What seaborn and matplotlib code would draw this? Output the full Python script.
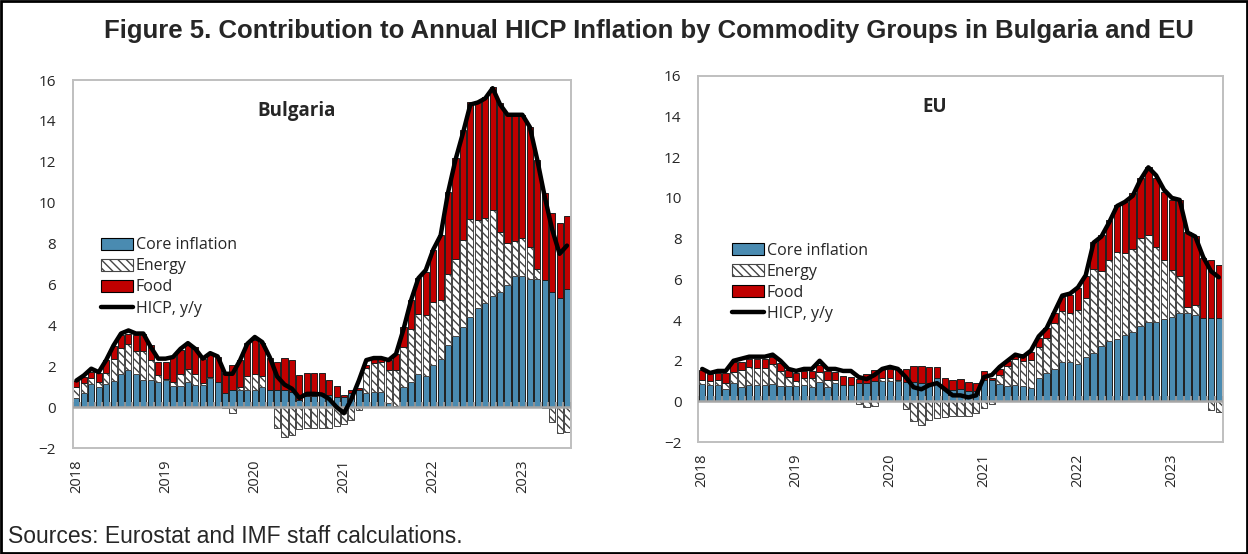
import numpy as np
import matplotlib
matplotlib.use("Agg")
import matplotlib.pyplot as plt
import seaborn as sns
from matplotlib.patches import Patch, Rectangle
from matplotlib.lines import Line2D

# ---------------- data (monthly, Jan 2018 - Jul 2023) ----------------
years = ["2018", "2019", "2020", "2021", "2022", "2023"]

bg_core = [0.47, 0.67, 1.11, 0.96, 1.11, 1.29, 1.60, 1.81, 1.60, 1.35, 1.35, 1.24,
           1.35, 1.03, 1.03, 1.24, 1.08, 1.08, 1.40, 1.21, 0.67, 0.86, 0.86, 0.86,
           0.86, 1.00, 0.86, 0.83, 0.86, 0.75, 0.34, 0.55, 0.55, 0.67, 0.59, 0.50,
           0.50, 0.67, 0.83, 0.70, 0.75, 0.72, 0.20, 0.05, 1.00, 1.24, 1.60, 1.52,
           2.06, 2.33, 3.03, 3.47, 3.90, 4.42, 4.83, 5.07, 5.43, 5.64, 5.97, 6.43,
           6.43, 6.26, 6.25, 6.20, 5.61, 5.32, 5.76]
bg_energy = [0.53, 0.49, 0.33, 0.28, 0.57, 1.04, 1.27, 1.26, 1.16, 1.41, 0.95, 0.33,
             0.02, 0.21, 0.57, 0.60, 0.54, 0.11, 0.08, 0.00, -0.05, -0.30, 0.10, 0.67,
             0.75, 0.53, 0.00, -1.04, -1.45, -1.35, -1.05, -1.00, -1.00, -1.00, -1.00, -0.90,
             -0.82, -0.64, -0.12, 1.19, 1.39, 1.50, 1.60, 1.75, 1.95, 2.56, 2.95, 2.98,
             3.06, 2.91, 3.48, 3.76, 4.27, 4.78, 4.32, 4.16, 4.21, 2.91, 2.04, 1.71,
             1.82, 1.59, 0.50, -0.05, -0.72, -1.26, -1.21]
bg_food = [0.29, 0.32, 0.29, 0.44, 0.62, 0.66, 0.65, 0.53, 0.76, 0.84, 0.73, 0.65,
           0.85, 1.26, 1.19, 1.19, 1.33, 1.14, 1.18, 1.25, 0.98, 1.19, 1.34, 1.59,
           1.67, 1.59, 1.52, 1.40, 1.52, 1.55, 1.23, 1.13, 1.10, 0.98, 0.76, 0.54,
           0.07, 0.19, 0.10, 0.17, 0.24, 0.16, 0.50, 0.80, 0.98, 1.44, 1.75, 2.12,
           2.56, 3.18, 4.03, 4.94, 5.39, 5.71, 5.84, 5.93, 6.04, 6.31, 6.36, 6.20,
           6.04, 5.87, 5.35, 4.29, 3.90, 3.67, 3.59]
bg_hicp = [1.30, 1.55, 1.88, 1.71, 2.30, 3.02, 3.60, 3.75, 3.60, 3.60, 2.94, 2.37,
           2.37, 2.45, 2.85, 3.13, 2.85, 2.37, 2.64, 2.48, 1.63, 1.63, 2.28, 3.10,
           3.43, 3.18, 2.45, 1.50, 1.10, 0.90, 0.45, 0.65, 0.65, 0.62, 0.40, 0.00,
           -0.30, 0.40, 1.30, 2.30, 2.40, 2.40, 2.30, 2.60, 3.80, 5.20, 6.30, 6.70,
           7.70, 8.40, 10.50, 12.10, 13.40, 14.80, 14.90, 15.10, 15.60, 14.80, 14.30, 14.30,
           14.30, 13.70, 12.10, 10.30, 8.70, 7.50, 7.90]

eu_core = [0.84, 0.81, 0.81, 0.61, 0.89, 0.73, 0.81, 0.81, 0.81, 0.86, 0.76, 0.76,
           0.76, 0.79, 0.73, 0.97, 0.73, 0.92, 0.79, 0.81, 0.89, 0.92, 1.02, 1.02,
           1.02, 1.02, 0.97, 0.97, 0.92, 0.89, 1.17, 0.60, 0.56, 0.60, 0.53, 0.52,
           1.06, 1.06, 0.86, 0.76, 0.81, 0.76, 0.65, 1.14, 1.42, 1.58, 1.96, 1.96,
           1.84, 2.17, 2.40, 2.73, 2.99, 3.05, 3.27, 3.43, 3.71, 3.92, 3.92, 4.03,
           4.13, 4.33, 4.33, 4.25, 4.08, 4.12, 4.12]
eu_energy = [0.22, 0.21, 0.25, 0.31, 0.58, 0.82, 0.90, 0.82, 0.82, 0.96, 0.75, 0.46,
             0.26, 0.35, 0.44, 0.50, 0.33, 0.14, 0.03, 0.00, -0.10, -0.25, -0.22, 0.15,
             0.12, 0.02, -0.37, -0.94, -1.15, -0.91, -0.83, -0.78, -0.71, -0.71, -0.71, -0.58,
             -0.34, -0.12, 0.44, 0.98, 1.26, 1.24, 1.39, 1.55, 1.68, 2.26, 2.50, 2.40,
             2.65, 2.90, 4.09, 3.69, 3.96, 4.31, 4.04, 4.04, 4.30, 4.26, 3.68, 2.92,
             2.33, 1.83, 0.33, 0.49, 0.00, -0.42, -0.50]
eu_food = [0.49, 0.31, 0.36, 0.50, 0.45, 0.41, 0.36, 0.44, 0.44, 0.35, 0.36, 0.33,
           0.40, 0.37, 0.34, 0.32, 0.44, 0.37, 0.43, 0.41, 0.20, 0.41, 0.53, 0.43,
           0.44, 0.56, 0.61, 0.77, 0.82, 0.82, 0.51, 0.54, 0.50, 0.49, 0.44, 0.37,
           0.45, 0.08, 0.28, 0.26, 0.21, 0.33, 0.41, 0.41, 0.49, 0.49, 0.69, 0.87,
           1.07, 1.09, 1.36, 1.76, 1.96, 2.29, 2.50, 2.75, 2.95, 3.32, 3.40, 3.35,
           3.43, 3.73, 3.68, 3.39, 2.95, 2.83, 2.58]
eu_hicp = [1.6, 1.4, 1.5, 1.5, 2.0, 2.1, 2.2, 2.2, 2.2, 2.3, 2.0, 1.6,
           1.5, 1.6, 1.6, 2.0, 1.6, 1.6, 1.5, 1.5, 1.2, 1.1, 1.3, 1.6,
           1.7, 1.6, 1.2, 0.7, 0.6, 0.8, 0.9, 0.6, 0.3, 0.3, 0.2, 0.3,
           1.2, 1.3, 1.7, 2.0, 2.3, 2.2, 2.5, 3.2, 3.6, 4.4, 5.2, 5.3,
           5.6, 6.2, 7.8, 8.1, 8.8, 9.6, 9.8, 10.1, 10.9, 11.5, 11.1, 10.4,
           10.0, 9.9, 8.3, 8.1, 7.1, 6.4, 6.1]

# ---------------- style ----------------
CORE = "#4a8bb1"
FOOD = "#c00000"
EDGE = "#1e1e1e"
HATCH_EDGE = "#454545"
GRID = "#bfbfbf"
HATCH = "\\\\\\\\"

sns.set_style("white")
plt.rcParams["font.family"] = ["Open Sans", "DejaVu Sans"]
plt.rcParams["hatch.linewidth"] = 1.0


def draw_panel(ax, core, energy, food, hicp, name, leg_anchor):
    core = np.array(core)
    energy = np.array(energy)
    food = np.array(food)
    x = np.arange(len(core))
    e_bottom = np.where(energy >= 0, core, 0)
    f_bottom = core + np.clip(energy, 0, None)

    common = dict(ax=ax, width=0.82, saturation=1, errorbar=None, linewidth=0.7)
    sns.barplot(x=x, y=core, color=CORE, edgecolor=EDGE, **common)
    sns.barplot(x=x, y=energy, bottom=e_bottom, color="white",
                edgecolor=HATCH_EDGE, hatch=HATCH, **common)
    sns.barplot(x=x, y=food, bottom=f_bottom, color=FOOD, edgecolor=EDGE, **common)

    # category axis crossing at zero, with small tick marks
    ax.axhline(0, color="#a6a6a6", lw=1.8, zorder=3)
    ax.vlines(np.arange(len(core) + 1) - 0.5, 0, 0.25, colors="#a6a6a6", lw=1.2, zorder=3)

    sns.lineplot(x=x, y=hicp, color="black", linewidth=3.2, ax=ax, legend=False, zorder=5)

    ax.set_xlim(-0.5, len(core) - 0.5)
    ax.set_ylim(-2, 16)
    ax.set_yticks(range(-2, 17, 2))
    ax.set_xticks(np.arange(len(years)) * 12, years, rotation=90)
    ax.tick_params(axis="x", length=0, pad=8, labelsize=10.5)
    ax.tick_params(axis="y", direction="in", length=4, color=GRID, pad=12, labelsize=11)
    ax.set_xlabel("")
    ax.set_ylabel("")
    for s in ax.spines.values():
        s.set_color(GRID)
        s.set_linewidth(1.4)

    ax.text(0.45, 0.915, name, transform=ax.transAxes, ha="center", va="center",
            fontsize=13.5, fontweight="bold")

    handles = [
        Patch(facecolor=CORE, edgecolor="black", lw=0.8),
        Patch(facecolor="white", edgecolor=HATCH_EDGE, hatch=HATCH, lw=0.8),
        Patch(facecolor=FOOD, edgecolor="black", lw=0.8),
        Line2D([], [], color="black", lw=3.2),
    ]
    ax.legend(handles, ["Core inflation", "Energy", "Food", "HICP, y/y"],
              loc="upper left", bbox_to_anchor=leg_anchor, frameon=False,
              fontsize=11.5, handlelength=2.0, handleheight=0.75, handletextpad=0.15,
              labelspacing=0.32, borderaxespad=0)


fig = plt.figure(figsize=(12.48, 5.54), dpi=100)
W, H = 1248, 554
ax1 = fig.add_axes([72.7 / W, 1 - 448 / H, (570.7 - 72.7) / W, (448 - 80) / H])
ax2 = fig.add_axes([698.3 / W, 1 - 442.2 / H, (1222.7 - 698.3) / W, (442.2 - 75.7) / H])

draw_panel(ax1, bg_core, bg_energy, bg_food, bg_hicp, "Bulgaria", (0.045, 0.59))
draw_panel(ax2, eu_core, eu_energy, eu_food, eu_hicp, "EU", (0.053, 0.562))

fig.text(0.52, 0.944, "Figure 5. Contribution to Annual HICP Inflation by Commodity Groups in Bulgaria and EU",
         ha="center", va="center", fontsize=18.5, fontweight="bold", family="Liberation Sans")
fig.text(0.0064, 0.031, "Sources: Eurostat and IMF staff calculations.",
         ha="left", va="center", fontsize=16.5, family="Liberation Sans")

fig.patches.append(Rectangle((0.001, 0.002), 0.998, 0.996, transform=fig.transFigure,
                             fill=False, edgecolor="black", lw=2))

fig.savefig("out.png", dpi=100)
